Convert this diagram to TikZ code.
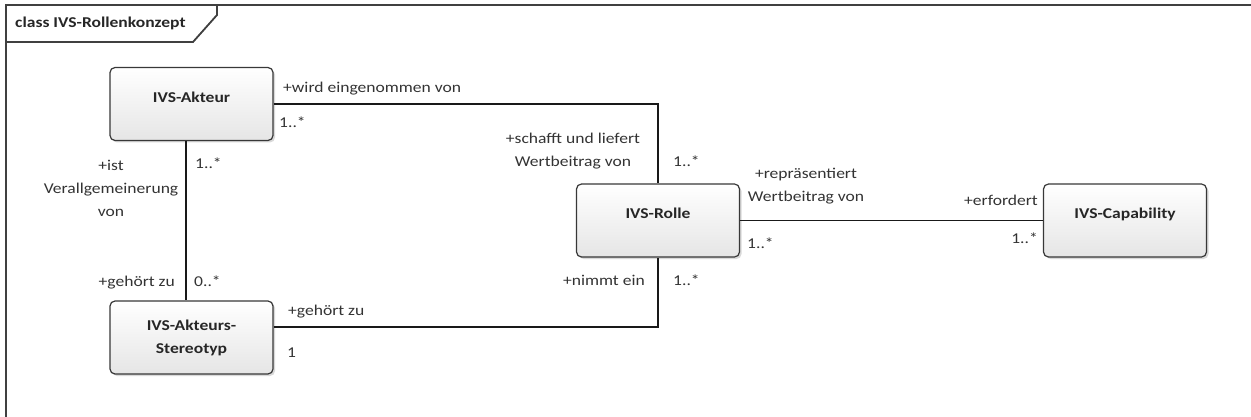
\documentclass[tikz,border=0pt]{standalone}
\usepackage{fontspec}
\setmainfont{Carlito}[FakeStretch=1.17]
\usetikzlibrary{shadows}
\begin{document}
\begin{tikzpicture}[x=1pt,y=-1pt,
  font=\fontsize{15}{23}\selectfont,
  every node/.append style={inner sep=0pt},
  cls/.style={draw=black!78,line width=1.2pt,rounded corners=5pt,top color=white,bottom color=black!10,
    minimum width=163pt,minimum height=73pt,font=\fontsize{15}{23}\selectfont\bfseries,text=black!85,
    drop shadow={shadow xshift=2pt,shadow yshift=-2pt,fill=black!25,opacity=.6}},
  one/.style={text depth=14pt},
  lbl/.style={text=black!80},
  assoc/.style={draw=black!90,line width=1.2pt},
  frm/.style={draw=black!75,line width=1.8pt}]
  \useasboundingbox (0,0) rectangle (1251,417);
  \draw[frm] (1251,5) -- (6,5) -- (6,417);
  \draw[frm] (6,42) -- (193,42) -- (217,15) -- (217,5);
  \node[anchor=base west,font=\fontsize{15}{23}\selectfont\bfseries,text=black!85] (titel) at (15,28) {class IVS-Rollenkonzept};
  \node[cls,one] (akteur) at (191.5,104) {IVS-Akteur};
  \node[cls,align=center] (stereo) at (191.5,337.5) {IVS-Akteurs-\\Stereotyp};
  \node[cls,one] (rolle) at (658,220.5) {IVS-Rolle};
  \node[cls,one] (cap) at (1125,220.5) {IVS-Capability};
  \draw[assoc] (akteur.east) -| (rolle.north);
  \draw[assoc] ([xshift=-5.5pt]akteur.south) -- ([xshift=-5.5pt]akteur.south |- stereo.north);
  \draw[assoc] ([yshift=10.5pt]stereo.east) -| (rolle.south);
  \draw[assoc] (rolle.east) -- (cap.west);
  \node[lbl,anchor=base west] (wird) at (283,93) {+wird eingenommen von};
  \node[lbl,anchor=base west] (m1) at (279,128) {1..*};
  \node[lbl,anchor=base west] (m2) at (195,168) {1..*};
  \node[lbl,align=center] (ist) at (111,188) {+ist\\Verallgemeinerung\\von};
  \node[lbl,anchor=base east] (gehoertl) at (175,286) {+gehört zu};
  \node[lbl,anchor=base west] (m3) at (194,286) {0..*};
  \node[lbl,anchor=base west] (gehoertr) at (288,315) {+gehört zu};
  \node[lbl,anchor=base west] (m4) at (287,357) {1};
  \node[lbl,align=center] (schafft) at (573,151) {+schafft und liefert\\Wertbeitrag von};
  \node[lbl,anchor=base west] (m5) at (673,167) {1..*};
  \node[lbl,align=center] (repr) at (806,186.5) {+repräsentiert\\Wertbeitrag von};
  \node[lbl,anchor=base west] (m6) at (747,248) {1..*};
  \node[lbl,anchor=base east] (nimmt) at (645,285) {+nimmt ein};
  \node[lbl,anchor=base west] (m7) at (673,285) {1..*};
  \node[lbl,anchor=base east] (erf) at (1038,205) {+erfordert};
  \node[lbl,anchor=base east] (m8) at (1038,243) {1..*};
\end{tikzpicture}
\end{document}
